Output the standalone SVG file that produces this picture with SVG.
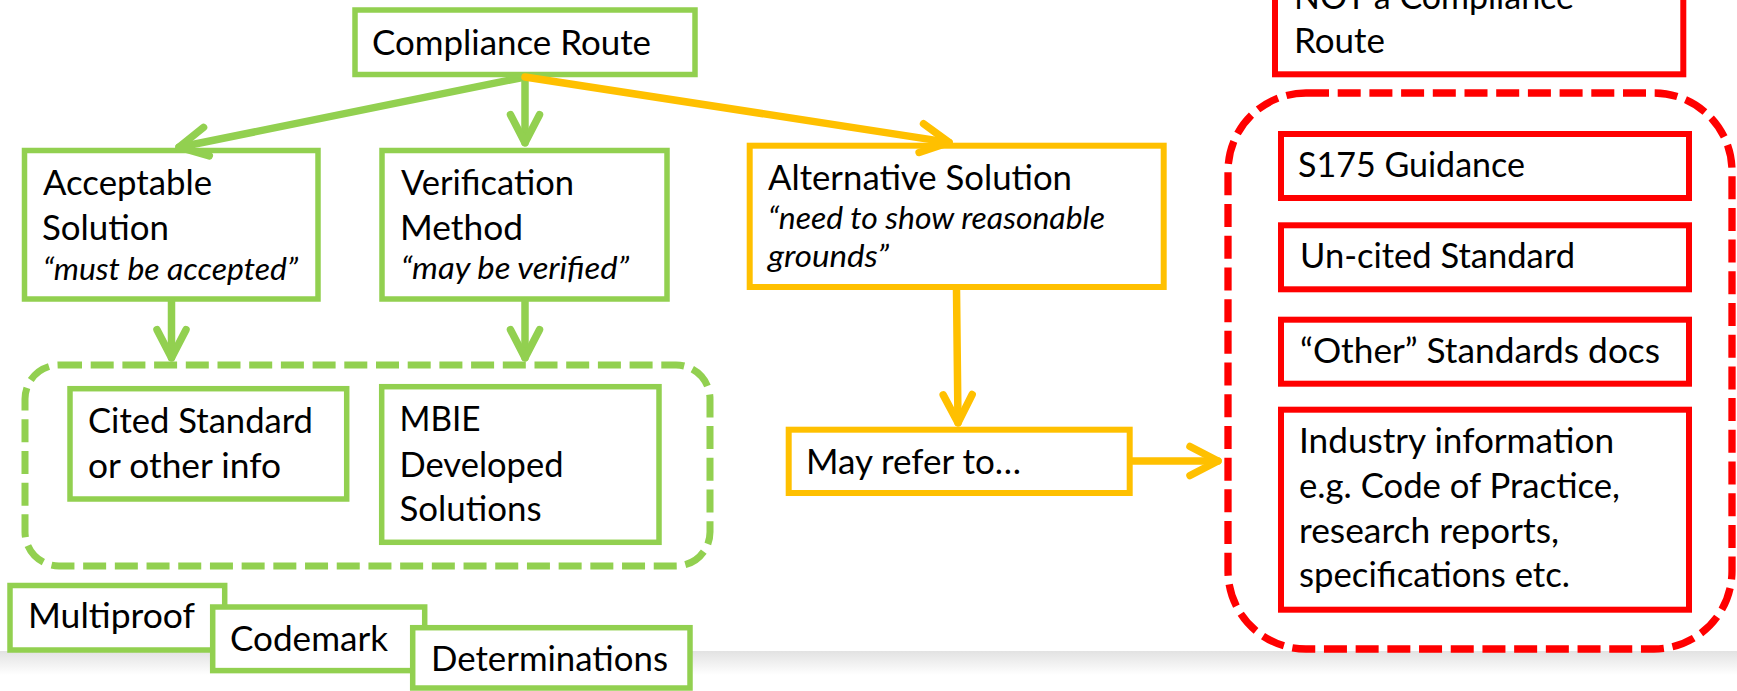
<svg xmlns="http://www.w3.org/2000/svg" width="1737" height="691" viewBox="0 0 1737 691">
  <defs>
    <style>
      .box { fill: #ffffff; stroke-width: 5.5; }
      .grn { stroke: #92D050; }
      .org { stroke: #FFC000; }
      .red { stroke: #FF0000; stroke-width: 6; }
      .grp { fill: none; stroke-width: 7; stroke-dasharray: 23 8.7; }
      .t { font-family: Lato, "Liberation Sans", sans-serif; font-size: 34px; fill: #000000; }
      .it { font-style: italic; font-size: 30px; }
      .lnk { fill: none; stroke-width: 7.5; stroke-linecap: round; }
    </style>
    <linearGradient id="pageShadow" x1="0" y1="0" x2="0" y2="1">
      <stop offset="0" stop-color="#e2e2e2"/>
      <stop offset="1" stop-color="#ffffff"/>
    </linearGradient>
    <marker id="headGreen" viewBox="-40 -24 48 48" markerWidth="48" markerHeight="48" refX="0" refY="0" orient="auto" markerUnits="userSpaceOnUse" overflow="visible">
      <path d="M -28 -14.5 L 0 0 L -28 14.5" fill="none" stroke="#92D050" stroke-width="7.5" stroke-linecap="round" stroke-linejoin="round"/>
    </marker>
    <marker id="headOrange" viewBox="-40 -24 48 48" markerWidth="48" markerHeight="48" refX="0" refY="0" orient="auto" markerUnits="userSpaceOnUse" overflow="visible">
      <path d="M -28 -14.5 L 0 0 L -28 14.5" fill="none" stroke="#FFC000" stroke-width="7.5" stroke-linecap="round" stroke-linejoin="round"/>
    </marker>
  </defs>

  <rect width="1737" height="691" fill="#ffffff"/>
  <!-- page edge shadow -->
  <rect x="0" y="651" width="1737" height="24" fill="url(#pageShadow)"/>

  <!-- grouping outlines -->
  <g id="compliance-docs-group">
    <rect class="grp grn" x="25" y="365" width="685" height="201" rx="34"/>
  </g>
  <g id="non-compliance-group">
    <rect class="grp red" x="1228" y="93" width="504" height="556" rx="78" style="stroke-width:7.3"/>
  </g>

  <g id="compliance-route">
    <rect class="box grn" x="355" y="10" width="340" height="64.5"/>
    <text class="t" x="372" y="55" textLength="279" lengthAdjust="spacingAndGlyphs">Compliance Route</text>
  </g>

  <g id="acceptable-solution">
    <rect class="box grn" x="24.5" y="150.5" width="293.5" height="148.5"/>
    <text class="t" x="43" y="195" textLength="169" lengthAdjust="spacingAndGlyphs">Acceptable</text>
    <text class="t" x="42" y="240" textLength="127" lengthAdjust="spacingAndGlyphs">Solution</text>
    <text class="t it" x="43" y="279.5" textLength="255" lengthAdjust="spacingAndGlyphs">“must be accepted”</text>
  </g>

  <g id="verification-method">
    <rect class="box grn" x="382" y="150.5" width="285" height="148.5"/>
    <text class="t" x="401" y="195" textLength="173" lengthAdjust="spacingAndGlyphs">Verification</text>
    <text class="t" x="400" y="240" textLength="123" lengthAdjust="spacingAndGlyphs">Method</text>
    <text class="t it" x="401" y="279" textLength="228" lengthAdjust="spacingAndGlyphs">“may be verified”</text>
  </g>

  <g id="alternative-solution">
    <rect class="box org" x="749.7" y="145.7" width="414" height="141.3" style="stroke-width:6"/>
    <text class="t" x="768" y="190" textLength="304" lengthAdjust="spacingAndGlyphs">Alternative Solution</text>
    <text class="t it" x="768" y="229.3" textLength="337" lengthAdjust="spacingAndGlyphs">“need to show reasonable</text>
    <text class="t it" x="768" y="266.7" textLength="121" lengthAdjust="spacingAndGlyphs">grounds”</text>
  </g>

  <g id="cited-standard">
    <rect class="box grn" x="70" y="388.7" width="276.7" height="110.3"/>
    <text class="t" x="88" y="433.3" textLength="225" lengthAdjust="spacingAndGlyphs">Cited Standard</text>
    <text class="t" x="88" y="478.3" textLength="193" lengthAdjust="spacingAndGlyphs">or other info</text>
  </g>

  <g id="mbie-solutions">
    <rect class="box grn" x="381.7" y="386.7" width="277.3" height="155.6"/>
    <text class="t" x="399.5" y="431" textLength="81" lengthAdjust="spacingAndGlyphs">MBIE</text>
    <text class="t" x="399.5" y="476.7" textLength="164" lengthAdjust="spacingAndGlyphs">Developed</text>
    <text class="t" x="399.5" y="521" textLength="142" lengthAdjust="spacingAndGlyphs">Solutions</text>
  </g>

  <g id="may-refer">
    <rect class="box org" x="788.7" y="429.7" width="341" height="63.3" style="stroke-width:6"/>
    <text class="t" x="806" y="474" textLength="215" lengthAdjust="spacingAndGlyphs">May refer to…</text>
  </g>

  <g id="multiproof">
    <rect class="box grn" x="10" y="585.5" width="214.7" height="64.5"/>
    <text class="t" x="28" y="628.3" textLength="167" lengthAdjust="spacingAndGlyphs">Multiproof</text>
  </g>

  <g id="codemark">
    <rect class="box grn" x="212.7" y="607" width="212" height="63.6"/>
    <text class="t" x="230" y="650.7" textLength="158" lengthAdjust="spacingAndGlyphs">Codemark</text>
  </g>

  <g id="determinations">
    <rect class="box grn" x="412.7" y="627.7" width="277.3" height="60.3"/>
    <text class="t" x="431" y="670.7" textLength="237" lengthAdjust="spacingAndGlyphs">Determinations</text>
  </g>

  <g id="not-compliance-route">
    <rect class="box red" x="1275" y="-40" width="408.3" height="114.3"/>
    <text class="t" x="1294" y="9" textLength="280" lengthAdjust="spacingAndGlyphs">NOT a Compliance</text>
    <text class="t" x="1294" y="53.3" textLength="91" lengthAdjust="spacingAndGlyphs">Route</text>
  </g>

  <g id="s175-guidance">
    <rect class="box red" x="1281" y="134" width="408" height="64"/>
    <text class="t" x="1298" y="176.7" textLength="227" lengthAdjust="spacingAndGlyphs">S175 Guidance</text>
  </g>

  <g id="uncited-standard">
    <rect class="box red" x="1281" y="225.3" width="408" height="64"/>
    <text class="t" x="1300" y="268.3" textLength="275" lengthAdjust="spacingAndGlyphs">Un-cited Standard</text>
  </g>

  <g id="other-standards">
    <rect class="box red" x="1281" y="319.7" width="408" height="64"/>
    <text class="t" x="1300" y="363.3" textLength="360" lengthAdjust="spacingAndGlyphs">“Other” Standards docs</text>
  </g>

  <g id="industry-information">
    <rect class="box red" x="1281" y="409.7" width="408" height="200"/>
    <text class="t" x="1299" y="453.3" textLength="315" lengthAdjust="spacingAndGlyphs">Industry information</text>
    <text class="t" x="1299" y="498.3" textLength="321" lengthAdjust="spacingAndGlyphs">e.g. Code of Practice,</text>
    <text class="t" x="1299" y="543.3" textLength="260" lengthAdjust="spacingAndGlyphs">research reports,</text>
    <text class="t" x="1299" y="586.7" textLength="271" lengthAdjust="spacingAndGlyphs">specifications etc.</text>
  </g>

  <!-- connectors -->
  <g id="connectors">
    <line class="lnk grn" x1="525" y1="77" x2="179" y2="147.2" marker-end="url(#headGreen)"/>
    <line class="lnk grn" x1="525" y1="77" x2="525" y2="142.7" marker-end="url(#headGreen)"/>
    <line class="lnk org" x1="525" y1="77" x2="949" y2="142.4" marker-end="url(#headOrange)"/>
    <line class="lnk grn" x1="171.5" y1="301" x2="171.5" y2="357.7" marker-end="url(#headGreen)"/>
    <line class="lnk grn" x1="525" y1="301" x2="525" y2="357.7" marker-end="url(#headGreen)"/>
    <line class="lnk org" x1="956.5" y1="290" x2="958" y2="422.7" marker-end="url(#headOrange)"/>
    <line class="lnk org" x1="1132.7" y1="461" x2="1218" y2="461" marker-end="url(#headOrange)"/>
  </g>
</svg>
